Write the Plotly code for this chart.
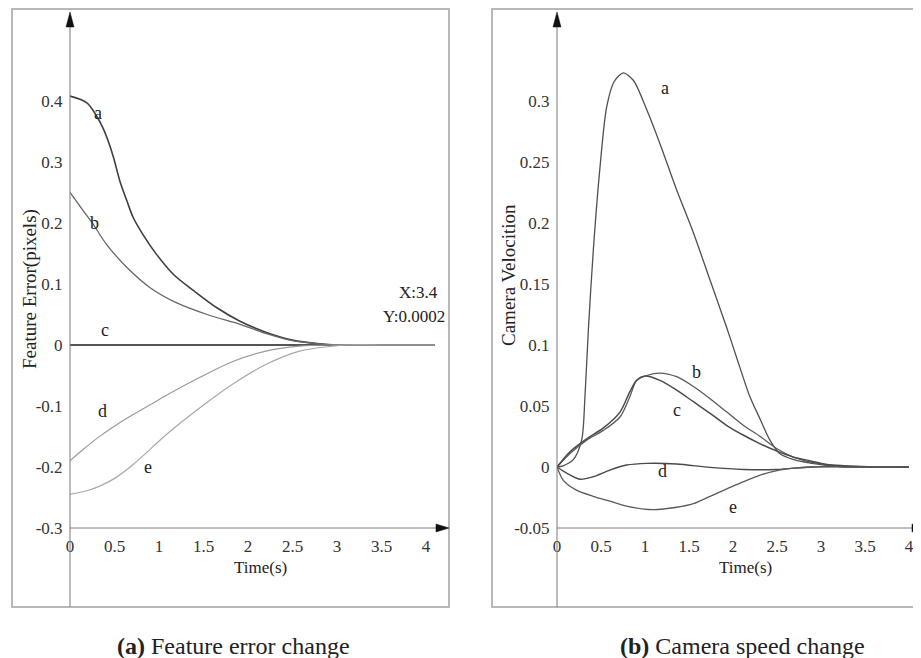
import plotly.graph_objects as go

# page body adds an 8 px margin, so the figure is drawn 8 px smaller and offset
OFF = 8
W, H = 921 - OFF, 658 - OFF

# ---------------- Panel (a): feature error ----------------
left_x_ticks = [0, 0.5, 1, 1.5, 2, 2.5, 3, 3.5, 4]
left_x_labels = ["0", "0.5", "1", "1.5", "2", "2.5", "3", "3.5", "4"]
left_y_ticks = [-0.3, -0.2, -0.1, 0, 0.1, 0.2, 0.3, 0.4]
left_y_labels = ["-0.3", "-0.2", "-0.1", "0", "0.1", "0.2", "0.3", "0.4"]

fe_t_a = [0, 0.19, 0.30, 0.37, 0.43, 0.49, 0.56, 0.64, 0.71, 0.82, 0.97, 1.16, 1.39, 1.65, 1.91, 2.2, 2.5, 2.8, 3.0, 3.5, 4.1]
fe_a = [0.408, 0.397, 0.375, 0.356, 0.334, 0.307, 0.269, 0.236, 0.209, 0.181, 0.149, 0.116, 0.089, 0.061, 0.039, 0.021, 0.008, 0.002, 0.0, 0.0, 0.0]

fe_t_b = [0, 0.15, 0.26, 0.41, 0.64, 0.9, 1.2, 1.54, 1.91, 2.2, 2.5, 2.8, 3.0, 3.5, 4.1]
fe_b = [0.25, 0.22, 0.198, 0.165, 0.127, 0.094, 0.069, 0.05, 0.034, 0.019, 0.007, 0.002, 0.0, 0.0, 0.0]

fe_t_c = [0, 1, 2, 3, 4.1]
fe_c = [0, 0, 0, 0, 0]

fe_t_d = [0, 0.15, 0.34, 0.52, 0.71, 0.9, 1.09, 1.46, 1.83, 2.2, 2.58, 2.88, 3.5, 4.1]
fe_d = [-0.19, -0.171, -0.149, -0.131, -0.114, -0.098, -0.082, -0.053, -0.027, -0.01, -0.002, 0.0, 0.0, 0.0]

fe_t_e = [0, 0.19, 0.34, 0.52, 0.71, 1.09, 1.46, 1.83, 2.2, 2.58, 2.95, 3.1, 3.5, 4.1]
fe_e = [-0.245, -0.239, -0.231, -0.217, -0.196, -0.146, -0.103, -0.064, -0.032, -0.01, -0.002, 0.0, 0.0, 0.0]

# ---------------- Panel (b): camera velocity ----------------
right_x_ticks = [0, 0.5, 1, 1.5, 2, 2.5, 3, 3.5, 4]
right_x_labels = ["0", "0.5", "1", "1.5", "2", "2.5", "3", "3.5", "4"]
right_y_ticks = [-0.05, 0, 0.05, 0.1, 0.15, 0.2, 0.25, 0.3]
right_y_labels = ["-0.05", "0", "0.05", "0.1", "0.15", "0.2", "0.25", "0.3"]

cv_t_a = [0, 0.07, 0.185, 0.28, 0.318, 0.356, 0.413, 0.489, 0.564, 0.65, 0.754, 0.867, 1.019, 1.17, 1.36, 1.55, 1.74, 1.93, 2.04, 2.19, 2.31, 2.42, 2.53, 2.69, 2.9, 3.1, 3.5, 4.0]
cv_a = [0, 0.001, 0.006, 0.022, 0.058, 0.112, 0.178, 0.246, 0.295, 0.316, 0.323, 0.317, 0.293, 0.265, 0.227, 0.192, 0.153, 0.114, 0.090, 0.058, 0.039, 0.022, 0.011, 0.006, 0.003, 0.001, 0.0, 0.0]

cv_t_b = [0, 0.148, 0.337, 0.527, 0.716, 0.83, 0.905, 1.02, 1.17, 1.36, 1.55, 1.74, 1.93, 2.12, 2.31, 2.5, 2.69, 2.88, 3.07, 3.26, 3.6, 4.0]
cv_b = [0, 0.011, 0.022, 0.030, 0.041, 0.058, 0.071, 0.075, 0.077, 0.074, 0.066, 0.056, 0.045, 0.034, 0.025, 0.015, 0.008, 0.004, 0.002, 0.0, 0.0, 0.0]

cv_t_c = [0, 0.148, 0.337, 0.527, 0.716, 0.83, 0.905, 1.0, 1.17, 1.36, 1.55, 1.74, 1.93, 2.12, 2.31, 2.5, 2.69, 2.88, 3.07, 3.26, 3.6, 4.0]
cv_c = [0, 0.0125, 0.023, 0.032, 0.045, 0.062, 0.071, 0.0745, 0.071, 0.063, 0.0535, 0.044, 0.034, 0.026, 0.019, 0.013, 0.008, 0.005, 0.002, 0.001, 0.0, 0.0]

cv_t_d = [0, 0.11, 0.26, 0.41, 0.6, 0.79, 1.02, 1.36, 1.74, 2.12, 2.5, 2.88, 3.26, 4.0]
cv_d = [0, -0.005, -0.010, -0.008, -0.0025, 0.0016, 0.003, 0.0025, -0.0003, -0.002, -0.002, 0.0, 0.0005, 0.0]

cv_t_e = [0, 0.072, 0.22, 0.41, 0.6, 0.79, 1.09, 1.36, 1.55, 1.74, 1.93, 2.12, 2.31, 2.5, 2.69, 2.88, 3.3, 4.0]
cv_e = [0, -0.011, -0.019, -0.024, -0.028, -0.032, -0.035, -0.033, -0.030, -0.024, -0.018, -0.012, -0.0066, -0.003, -0.001, 0.0, 0.0, 0.0]

# ---------------- layout geometry (screen pixels -> paper) ----------------
def PX(x):
    return (x - OFF) / W

def PY(y):
    return 1 - (y - OFF) / H

FONT = "Liberation Serif"

fig = go.Figure()

left_series = [
    (fe_t_a, fe_a, "#3f3f3f", 1.6),
    (fe_t_b, fe_b, "#666666", 1.3),
    (fe_t_c, fe_c, "#555555", 2.2),
    (fe_t_d, fe_d, "#9a9a9a", 1.2),
    (fe_t_e, fe_e, "#a8a8a8", 1.2),
]
for tx, ty, col, w in left_series:
    fig.add_trace(go.Scatter(x=tx, y=ty, mode="lines", xaxis="x", yaxis="y",
                             line=dict(color=col, width=w, shape="spline", smoothing=0.9),
                             showlegend=False, hoverinfo="skip"))

right_series = [
    (cv_t_a, cv_a, "#505050", 1.3),
    (cv_t_b, cv_b, "#5a5a5a", 1.3),
    (cv_t_c, cv_c, "#4a4a4a", 1.5),
    (cv_t_d, cv_d, "#4a4a4a", 1.4),
    (cv_t_e, cv_e, "#5a5a5a", 1.3),
]
for tx, ty, col, w in right_series:
    fig.add_trace(go.Scatter(x=tx, y=ty, mode="lines", xaxis="x2", yaxis="y2",
                             line=dict(color=col, width=w, shape="spline", smoothing=0.8),
                             showlegend=False, hoverinfo="skip"))

tickfont = dict(family=FONT, size=17, color="#333333")
common_axis = dict(showgrid=False, zeroline=False, showline=False, ticks="outside",
                   ticklen=3, tickcolor="rgba(0,0,0,0)", tickfont=tickfont, fixedrange=True,
                   automargin=False)

L_x0, L_x1 = 70, 444
L_y_bot, L_y_top = 528, 15
R_x0, R_x1 = 557, 920

fig.update_layout(
    template="none",
    font=dict(family=FONT, size=17, color="#333333"),
    width=W, height=H,
    margin=dict(l=0, r=0, t=0, b=0, pad=0, autoexpand=False),
    paper_bgcolor="white", plot_bgcolor="white",
    xaxis=dict(domain=[PX(L_x0), PX(L_x1)], range=[0, (L_x1 - L_x0) / 89.0],
               tickvals=left_x_ticks, ticktext=left_x_labels, anchor="y", **common_axis),
    yaxis=dict(domain=[PY(L_y_bot), PY(L_y_top)], range=[-0.3, -0.3 + (L_y_bot - L_y_top) / 610.0],
               tickvals=left_y_ticks, ticktext=left_y_labels, anchor="x", **common_axis),
    xaxis2=dict(domain=[PX(R_x0), min(1.0, PX(R_x1))], range=[0, (min(R_x1, OFF + W) - R_x0) / 88.0],
                tickvals=right_x_ticks, ticktext=right_x_labels, anchor="y2", **common_axis),
    yaxis2=dict(domain=[PY(L_y_bot), PY(L_y_top)], range=[-0.05, -0.05 + (L_y_bot - L_y_top) / 1220.0],
                tickvals=right_y_ticks, ticktext=right_y_labels, anchor="x2", **common_axis),
)

shapes = []
frame_col = "#b8b8b8"
shapes.append(dict(type="rect", xref="paper", yref="paper", x0=PX(12), x1=PX(449), y0=PY(607), y1=PY(9),
                   line=dict(color=frame_col, width=2), layer="below"))
shapes.append(dict(type="rect", xref="paper", yref="paper", x0=PX(492), x1=PX(935), y0=PY(607), y1=PY(9),
                   line=dict(color=frame_col, width=2), layer="below"))
axis_col = "#7a7a7a"
shapes.append(dict(type="line", xref="paper", yref="paper", x0=PX(70), x1=PX(70), y0=PY(607), y1=PY(26),
                   line=dict(color=axis_col, width=1)))
shapes.append(dict(type="line", xref="paper", yref="paper", x0=PX(70), x1=PX(437), y0=PY(528), y1=PY(528),
                   line=dict(color=axis_col, width=1)))
shapes.append(dict(type="line", xref="paper", yref="paper", x0=PX(557), x1=PX(557), y0=PY(607), y1=PY(26),
                   line=dict(color=axis_col, width=1)))
shapes.append(dict(type="line", xref="paper", yref="paper", x0=PX(557), x1=PX(912), y0=PY(528), y1=PY(528),
                   line=dict(color=axis_col, width=1)))

def tri(points):
    d = "M " + " L ".join(f"{PX(x):.5f} {PY(y):.5f}" for x, y in points) + " Z"
    return dict(type="path", xref="paper", yref="paper", path=d,
                fillcolor="#111111", line=dict(color="#111111", width=0.5))

shapes.append(tri([(70, 12), (66, 27), (74, 27)]))
shapes.append(tri([(557, 12), (553, 27), (561, 27)]))
shapes.append(tri([(449, 528), (436, 524), (436, 532)]))
shapes.append(tri([(925, 528), (912, 524), (912, 532)]))
fig.update_layout(shapes=shapes)

ann = []
def label(text, x, y, xref, yref, size=18, **kw):
    ann.append(dict(text=text, x=x, y=y, xref=xref, yref=yref, showarrow=False,
                    xanchor="center", yanchor="middle",
                    font=dict(family=FONT, size=size, color="#222222"), **kw))

# curve labels (a)
label("a", 0.31, 0.38, "x", "y")
label("b", 0.28, 0.20, "x", "y")
label("c", 0.39, 0.025, "x", "y")
label("d", 0.36, -0.108, "x", "y")
label("e", 0.88, -0.20, "x", "y")
# curve labels (b)
label("a", 1.23, 0.311, "x2", "y2")
label("b", 1.58, 0.078, "x2", "y2")
label("c", 1.36, 0.047, "x2", "y2")
label("d", 1.20, -0.003, "x2", "y2")
label("e", 2.00, -0.033, "x2", "y2")

# data tip
label("X:3.4", PX(418), PY(292), "paper", "paper", size=17)
label("Y:0.0002", PX(414), PY(316), "paper", "paper", size=17)

# axis titles
label("Time(s)", PX(260), PY(567), "paper", "paper", size=17)
label("Time(s)", PX(745), PY(567), "paper", "paper", size=17)
label("Feature Error(pixels)", PX(30), PY(289), "paper", "paper", size=19, textangle=-90)
label("Camera Velocition", PX(508), PY(275), "paper", "paper", size=19, textangle=-90)

# captions
label("<b>(a)</b> Feature error change", PX(233), PY(646), "paper", "paper", size=24)
label("<b>(b)</b> Camera speed change", PX(742), PY(646), "paper", "paper", size=24)

fig.update_layout(annotations=ann)

fig.write_html("out.html")
